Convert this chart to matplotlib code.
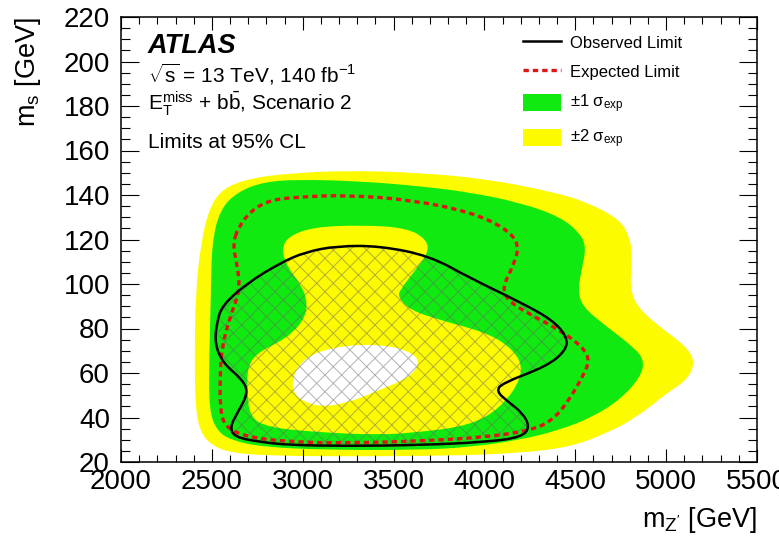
import numpy as np
import matplotlib.pyplot as plt
from matplotlib.path import Path
from matplotlib.patches import PathPatch, Patch
from matplotlib.lines import Line2D

plt.rcParams['font.family'] = 'Liberation Sans'
plt.rcParams['mathtext.fontset'] = 'custom'
plt.rcParams['mathtext.rm'] = 'Liberation Sans'
plt.rcParams['mathtext.it'] = 'Liberation Sans:italic'
plt.rcParams['mathtext.bf'] = 'Liberation Sans:bold'
plt.rcParams['hatch.linewidth'] = 0.7

GREEN = '#10ea10'
YELLOW = '#fdfb00'
RED = '#dd1515'

# contour edges: m_Z' [GeV], m_s [GeV]
band2_mz = [2560, 2710, 2930, 3260, 3645, 4015, 4375, 4565, 4745, 4800, 4815, 4800,
            4840, 4965, 5115, 5160, 5115, 5005, 4840, 4675, 4470, 4195, 3810, 3260,
            2820, 2600, 2500, 2440, 2410, 2405, 2410, 2440, 2485]
band2_ms = [143.0, 147.5, 149.8, 151.0, 150.0, 147.2, 141.4, 136.8, 129.0, 121.1, 112.1, 98.6,
            89.7, 80.7, 71.7, 64.5, 56.9, 51.0, 40.2, 33.0, 26.7, 24.0, 22.8, 22.5,
            22.8, 24.2, 27.5, 33.0, 43.4, 65.8, 95.9, 118.4, 134.0]

band1_mz = [2545, 2640, 2780, 2970, 3315, 3645, 3920, 4195, 4415, 4525, 4560, 4535,
            4515, 4540, 4675, 4820, 4880, 4860, 4745, 4595, 4415, 4195, 3920, 3645,
            3150, 2780, 2600, 2525, 2485, 2485, 2495, 2500]
band1_ms = [133.5, 141.3, 145.8, 147.0, 146.2, 144.0, 141.2, 136.6, 130.3, 123.0, 116.6, 106.3,
            97.3, 89.7, 80.7, 71.7, 65.8, 58.2, 47.9, 40.2, 34.4, 29.9, 26.7, 25.4,
            25.4, 26.7, 29.9, 34.4, 43.4, 65.8, 95.9, 118.4]

inner2_mz = [2915, 3055, 3330, 3575, 3685, 3690, 3620, 3535, 3525, 3590, 3755, 4015,
             4140, 4205, 4195, 4125, 4015, 3865, 3645, 3425, 3055, 2805, 2710, 2695,
             2695, 2750, 2860, 2945, 3015, 3025, 2985, 2915, 2885]
inner2_ms = [121.1, 125.6, 126.5, 125.2, 119.8, 113.9, 106.3, 97.3, 94.2, 88.3, 83.8, 78.0,
             71.7, 64.5, 56.9, 47.9, 40.2, 35.7, 33.5, 32.1, 33.5, 35.7, 40.2, 51.0,
             62.7, 69.0, 73.5, 78.0, 85.2, 92.8, 100.4, 107.6, 115.3]

hole_mz = [2945, 2970, 3055, 3245, 3465, 3605, 3645, 3590, 3425, 3245, 3095, 2985, 2945]
hole_ms = [56.9, 62.7, 69.0, 72.6, 72.6, 69.0, 64.5, 58.2, 52.4, 46.5, 44.7, 47.9, 52.4]

obs_mz = [3190, 3425, 3700, 3920, 4195, 4375, 4455, 4450, 4345, 4100, 4065, 4125,
          4210, 4250, 4205, 4015, 3645, 3245, 2930, 2765, 2625, 2600, 2640, 2700,
          2670, 2560, 2515, 2530, 2560, 2695, 2875, 3015]
obs_ms = [117.1, 117.1, 112.6, 102.7, 91.9, 83.8, 76.2, 70.3, 63.1, 55.5, 51.9, 47.4,
          42.0, 35.7, 31.2, 29.0, 27.6, 27.2, 27.6, 29.0, 31.2, 35.7, 42.0, 51.0,
          56.9, 64.5, 73.5, 83.8, 90.6, 100.4, 109.4, 114.4]

exp_mz = [2645, 2720, 2820, 2970, 3245, 3605, 3920, 4115, 4195, 4155, 4100, 4125,
          4235, 4415, 4540, 4580, 4540, 4455, 4375, 4265, 4015, 3645, 3245, 2930,
          2695, 2570, 2545, 2545, 2555, 2600, 2655, 2640, 2615]
exp_ms = [125.6, 133.2, 137.7, 139.1, 140.0, 137.7, 132.4, 125.2, 117.5, 107.6, 98.6, 92.8,
          87.0, 79.3, 71.7, 65.8, 58.2, 46.5, 38.9, 34.4, 31.2, 29.4, 28.5, 29.0,
          31.2, 35.7, 44.7, 58.2, 71.7, 85.2, 97.3, 108.5, 117.5]


def closed_curve(xs, ys):
    # quadratic b-spline through the edge points, closed
    pts = np.column_stack([xs, ys]).astype(float)
    mids = (pts + np.roll(pts, -1, axis=0)) / 2
    verts = [mids[-1]]
    codes = [Path.MOVETO]
    for p, m in zip(pts, mids):
        verts += [p, m]
        codes += [Path.CURVE3, Path.CURVE3]
    verts.append(mids[-1])
    codes.append(Path.CLOSEPOLY)
    return Path(verts, codes)


fig = plt.figure(figsize=(7.79, 5.38), dpi=100)
ax = fig.add_axes([121 / 779, 76 / 538, 636 / 779, 445 / 538])

ax.add_patch(PathPatch(closed_curve(band2_mz, band2_ms), facecolor=YELLOW, edgecolor='none'))
ax.add_patch(PathPatch(closed_curve(band1_mz, band1_ms), facecolor=GREEN, edgecolor='none'))
ax.add_patch(PathPatch(closed_curve(inner2_mz, inner2_ms), facecolor=YELLOW, edgecolor='none'))
ax.add_patch(PathPatch(closed_curve(hole_mz, hole_ms), facecolor='white', edgecolor='none'))

obs_path = closed_curve(obs_mz, obs_ms)
ax.add_patch(PathPatch(obs_path, fill=False, hatch='xx', edgecolor=(0.4, 0.4, 0.4, 0.5), lw=0))
ax.add_patch(PathPatch(closed_curve(exp_mz, exp_ms), fill=False, edgecolor=RED,
                       lw=2.4, linestyle=(0, (1.6, 1.2))))
ax.add_patch(PathPatch(obs_path, fill=False, edgecolor='black', lw=1.8))

ax.set_xlim(2000, 5500)
ax.set_ylim(20, 220)
ax.set_xticks(np.arange(2000, 5501, 500))
ax.set_xticks(np.arange(2000, 5501, 100), minor=True)
ax.set_yticks(np.arange(20, 221, 20))
ax.set_yticks(np.arange(20, 221, 5), minor=True)
ax.tick_params(which='both', direction='in', top=True, right=True, width=0.8, labelsize=20)
ax.tick_params(axis='x', which='major', length=9.5, pad=5)
ax.tick_params(axis='x', which='minor', length=4.7)
ax.tick_params(axis='y', which='major', length=13, pad=8)
ax.tick_params(axis='y', which='minor', length=6.5)
for s in ax.spines.values():
    s.set_linewidth(1.1)

ax.set_xlabel(r"m$_{\mathrm{Z'}}$ [GeV]", fontsize=19.5, loc='right')
ax.set_ylabel(r"m$_{\mathrm{s}}$ [GeV]", fontsize=19.5, loc='top')
ax.xaxis.set_label_coords(1.0, -0.097)
ax.yaxis.set_label_coords(-0.122, 1.0)

ax.text(0.0425, 0.919, 'ATLAS', transform=ax.transAxes, fontsize=19.5,
        fontweight='bold', fontstyle='italic', va='baseline')
ax.text(0.0425, 0.852, r'$\sqrt{\mathrm{s}}$ = 13 TeV, 140 fb$^{-1}$', transform=ax.transAxes,
        fontsize=15, va='baseline')
ax.text(0.0425, 0.789, r'E$_{\mathrm{T}}^{\mathrm{miss}}$ + b$\bar{\mathrm{b}}$, Scenario 2',
        transform=ax.transAxes, fontsize=15, va='baseline')
ax.text(0.0425, 0.706, 'Limits at 95% CL', transform=ax.transAxes, fontsize=15, va='baseline')

handles = [
    Line2D([], [], color='black', lw=1.8),
    Line2D([], [], color=RED, lw=2.4, linestyle=(0, (1.6, 1.2))),
    Patch(facecolor=GREEN, edgecolor='none'),
    Patch(facecolor=YELLOW, edgecolor='none'),
]
labels = ['Observed Limit', 'Expected Limit',
          r'$\pm$1 σ$_{\mathrm{exp}}$', r'$\pm$2 σ$_{\mathrm{exp}}$']
ax.legend(handles, labels, loc='upper left', bbox_to_anchor=(0.632, 0.963), frameon=False,
          fontsize=12, handlelength=2.3, handleheight=1.2, handletextpad=0.5,
          labelspacing=0.75, borderpad=0, borderaxespad=0)

fig.savefig('out.png', dpi=100)
